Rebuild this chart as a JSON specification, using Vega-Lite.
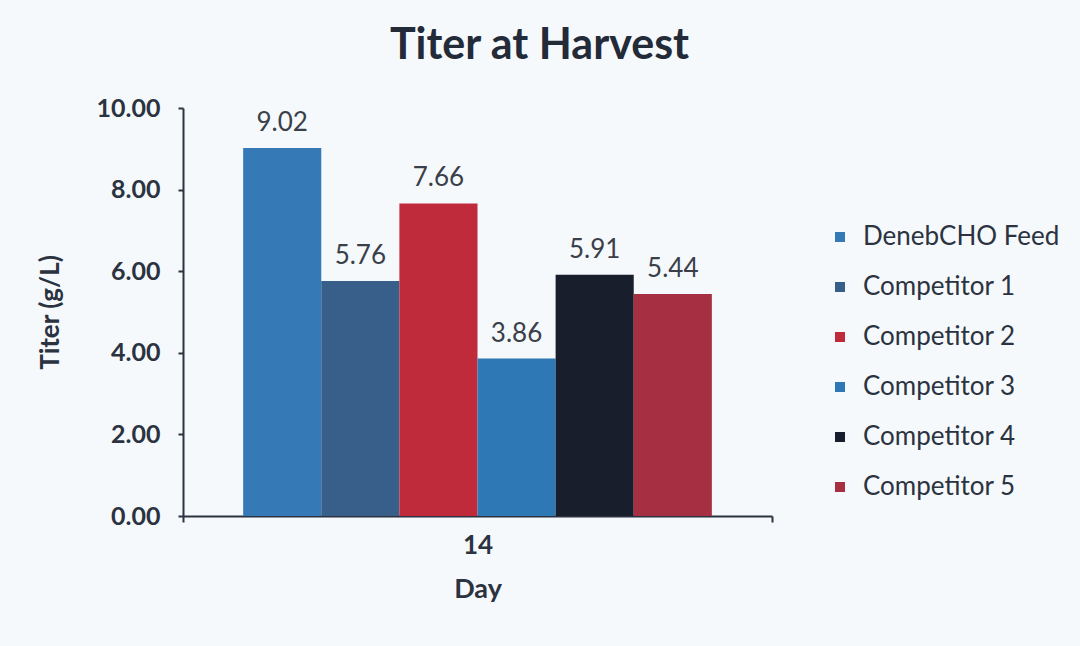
{
  "$schema": "https://vega.github.io/schema/vega-lite/v6.json",
  "autosize": "none",
  "width": 589,
  "height": 408,
  "padding": {"left": 183, "top": 108, "right": 308, "bottom": 130},
  "background": "#f5f9fc",
  "title": {
    "text": "Titer at Harvest",
    "font": "Lato",
    "fontSize": 43,
    "fontWeight": "bold",
    "color": "#232a38",
    "anchor": "middle",
    "dx": 62,
    "offset": 28
  },
  "data": {
    "values": [
      {"Day": "14", "Series": "DenebCHO Feed", "Titer": 9.02},
      {"Day": "14", "Series": "Competitor 1", "Titer": 5.76},
      {"Day": "14", "Series": "Competitor 2", "Titer": 7.66},
      {"Day": "14", "Series": "Competitor 3", "Titer": 3.86},
      {"Day": "14", "Series": "Competitor 4", "Titer": 5.91},
      {"Day": "14", "Series": "Competitor 5", "Titer": 5.44}
    ]
  },
  "encoding": {
    "x": {
      "field": "Day",
      "type": "nominal",
      "title": "Day",
      "scale": {"paddingInner": 0, "paddingOuter": 0},
      "axis": {
        "labelAngle": 0,
        "tickBand": "extent",
        "tickSize": 6,
        "labelFontSize": 26,
        "labelPadding": 10,
        "titleFontSize": 27,
        "titlePadding": 18
      }
    },
    "xOffset": {
      "field": "Series",
      "type": "nominal",
      "sort": ["DenebCHO Feed", "Competitor 1", "Competitor 2", "Competitor 3", "Competitor 4", "Competitor 5"],
      "scale": {"paddingInner": 0, "paddingOuter": 0.77}
    },
    "y": {
      "field": "Titer",
      "type": "quantitative",
      "title": "Titer (g/L)",
      "scale": {"domain": [0, 10]},
      "axis": {
        "values": [0, 2, 4, 6, 8, 10],
        "format": ".2f",
        "tickSize": 5,
        "labelFontSize": 25,
        "labelPadding": 18,
        "titleFontSize": 26,
        "titlePadding": 33
      }
    }
  },
  "layer": [
    {
      "mark": {"type": "bar"},
      "encoding": {
        "color": {
          "field": "Series",
          "type": "nominal",
          "title": null,
          "sort": ["DenebCHO Feed", "Competitor 1", "Competitor 2", "Competitor 3", "Competitor 4", "Competitor 5"],
          "scale": {
            "domain": ["DenebCHO Feed", "Competitor 1", "Competitor 2", "Competitor 3", "Competitor 4", "Competitor 5"],
            "range": ["#357ab6", "#375f89", "#bf2b3a", "#2d78b5", "#181e2b", "#a72f42"]
          },
          "legend": {
            "orient": "none",
            "legendX": 644,
            "legendY": 116,
            "symbolType": "square",
            "symbolSize": 100,
            "symbolStrokeWidth": 0,
            "labelFontSize": 26,
            "labelFont": "Lato",
            "labelColor": "#2b3240",
            "labelOffset": 10,
            "rowPadding": 24,
            "labelLimit": 300
          }
        }
      }
    },
    {
      "mark": {"type": "text", "dy": -25, "fontSize": 26, "font": "Lato", "color": "#3a3f4a"},
      "encoding": {
        "text": {"field": "Titer", "type": "quantitative", "format": ".2f"}
      }
    }
  ],
  "config": {
    "view": {"stroke": null},
    "axis": {
      "grid": false,
      "domainColor": "#2b3240",
      "domainWidth": 2,
      "tickColor": "#2b3240",
      "tickWidth": 2,
      "labelFont": "Lato",
      "labelFontWeight": "bold",
      "labelColor": "#2b3240",
      "titleFont": "Lato",
      "titleFontWeight": "bold",
      "titleColor": "#2b3240"
    }
  }
}
